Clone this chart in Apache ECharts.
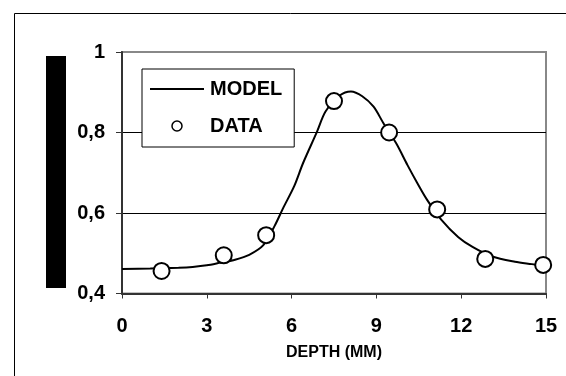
<!DOCTYPE html>
<html>
<head>
<meta charset="utf-8">
<script src="https://cdn.jsdelivr.net/npm/echarts@6/dist/echarts.min.js"></script>
<style>
html,body{margin:0;padding:0;background:#fff;}
#chart{width:566px;height:376px;}
</style>
</head>
<body>
<div id="chart"></div>
<script>
var dataX = [1.4, 3.6, 5.1, 7.5, 9.45, 11.15, 12.85, 14.9];
var dataY = [0.456, 0.495, 0.545, 0.878, 0.800, 0.609, 0.486, 0.471];
var modelX = [0, 1, 2, 2.5, 3, 3.5, 4, 4.5, 5, 5.4, 5.7, 6.1, 6.4, 6.9, 7.2, 7.7, 8.1, 8.5, 8.9, 9.25, 9.7, 10.1, 10.45, 10.8, 11.3, 11.9, 12.4, 13.1, 13.9, 14.5, 15];
var modelY = [0.461, 0.462, 0.464, 0.466, 0.470, 0.477, 0.484, 0.496, 0.520, 0.568, 0.612, 0.668, 0.723, 0.802, 0.852, 0.892, 0.902, 0.890, 0.864, 0.823, 0.773, 0.719, 0.674, 0.632, 0.583, 0.540, 0.516, 0.492, 0.479, 0.473, 0.468];
var seriesNames = ['MODEL', 'DATA'];
var xTitle = 'DEPTH (MM)';
var yTickValues = [0.4, 0.6, 0.8, 1];
var yTickLabels = ['0,4', '0,6', '0,8', '1'];

var FONT = 'Liberation Sans, Arial, sans-serif';
var chart = echarts.init(document.getElementById('chart'), null, {renderer: 'canvas'});

function pairs(xs, ys) { return xs.map(function (x, i) { return [x, ys[i]]; }); }

var option = {
  animation: false,
  backgroundColor: '#fff',
  grid: {
    left: 122, top: 52, right: 20, bottom: 82.5,
    show: true, borderColor: '#888', borderWidth: 2, backgroundColor: 'transparent'
  },
  graphic: [
    {type: 'rect', left: 12, top: 11, shape: {x: 0, y: 0, width: 600, height: 400},
     style: {fill: 'none', stroke: '#000', lineWidth: 1}, silent: true, z: 0},
    {type: 'rect', left: 46, top: 56, shape: {x: 0, y: 0, width: 20, height: 232},
     style: {fill: '#000'}, silent: true}
  ],
  legend: {
    orient: 'vertical',
    left: 142, top: 69,
    padding: [10, 12, 11, 7],
    itemGap: 17,
    itemWidth: 54, itemHeight: 10,
    borderColor: '#000', borderWidth: 1,
    backgroundColor: '#fff',
    textStyle: {fontFamily: FONT, fontWeight: 'bold', fontSize: 20, color: '#000', padding: [0, 0, 0, 1]},
    data: [
      {name: seriesNames[0], itemStyle: {color: 'transparent', borderColor: 'transparent', borderWidth: 0, opacity: 0}},
      {name: seriesNames[1], icon: 'circle', itemStyle: {color: '#fff', borderColor: '#000', borderWidth: 1.5}}
    ]
  },
  xAxis: {
    type: 'value', min: 0, max: 15, interval: 3,
    name: xTitle, nameLocation: 'middle', nameGap: 51,
    nameTextStyle: {fontFamily: FONT, fontWeight: 'bold', fontSize: 16, color: '#000'},
    axisLine: {show: true, onZero: false, lineStyle: {color: '#333', width: 2}},
    axisTick: {show: true, inside: false, length: 5, lineStyle: {color: '#333', width: 1}},
    axisLabel: {fontFamily: FONT, fontWeight: 'bold', fontSize: 20, color: '#000', margin: 23},
    splitLine: {show: false}
  },
  yAxis: {
    type: 'value', min: 0.4, max: 1, interval: 0.2,
    axisLine: {show: true, onZero: false, lineStyle: {color: '#333', width: 2}},
    axisTick: {show: true, inside: false, length: 6, lineStyle: {color: '#333', width: 1}},
    axisLabel: {
      fontFamily: FONT, fontWeight: 'bold', fontSize: 20, color: '#000', margin: 17,
      formatter: function (v) {
        for (var i = 0; i < yTickValues.length; i++) {
          if (Math.abs(yTickValues[i] - v) < 1e-6) return yTickLabels[i];
        }
        return '';
      }
    },
    splitLine: {show: true, lineStyle: {color: ['transparent', '#000', '#000', 'transparent'], width: 1}}
  },
  series: [
    {
      name: seriesNames[0], type: 'line', data: pairs(modelX, modelY),
      smooth: 0.3, symbol: 'none',
      lineStyle: {color: '#000', width: 2}, itemStyle: {color: '#000'}, z: 3
    },
    {
      name: seriesNames[1], type: 'scatter', data: pairs(dataX, dataY),
      symbol: 'circle', symbolSize: 16,
      itemStyle: {color: '#fff', borderColor: '#000', borderWidth: 2, opacity: 1}, z: 4
    }
  ]
};
chart.setOption(option);
</script>
</body>
</html>
